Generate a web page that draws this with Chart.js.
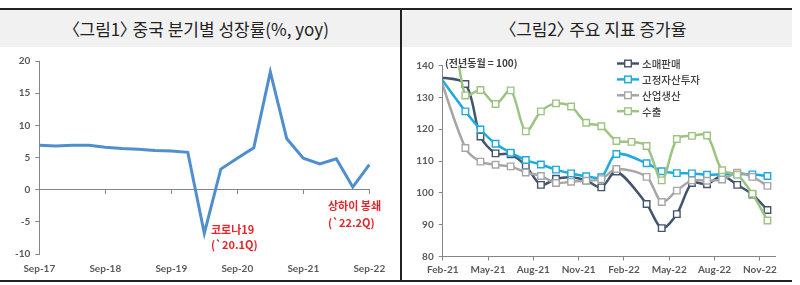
<!DOCTYPE html>
<html>
<head>
<meta charset="utf-8">
<script src="https://cdn.jsdelivr.net/npm/chart.js@4.4.1/dist/chart.umd.min.js"></script>
<style>
  body { margin: 0; width: 800px; height: 285px; background: #fff; position: relative; overflow: hidden;
         font-family: "Noto Sans CJK KR", sans-serif; }
  .abs { position: absolute; }
  .title { position: absolute; top: 10px; height: 37px; line-height: 37px; background: #f1f1f1;
           text-align: center; font-size: 17px; color: #222; font-feature-settings: "palt"; }
  .note { position: absolute; color: #e3262b; font-weight: bold; font-size: 11px; line-height: 14px; white-space: nowrap; }
  .unit { position: absolute; color: #404040; font-weight: bold; font-size: 10px; line-height: 12px; white-space: nowrap; }
</style>
</head>
<body>
<div class="title" style="left:0;width:400px">〈그림1〉 중국 분기별 성장률(%, yoy)</div>
<div class="title" style="left:402px;width:390px">〈그림2〉 주요 지표 증가율</div>
<div class="abs" style="left:0;top:8px;width:792px;height:2px;background:#222"></div>
<div class="abs" style="left:0;top:280px;width:792px;height:2px;background:#222"></div>
<div class="abs" style="left:400px;top:8px;width:2px;height:274px;background:#222"></div>

<div class="abs" style="left:0;top:48px;width:400px;height:232px"><canvas id="c1"></canvas></div>
<div class="abs" style="left:402px;top:48px;width:390px;height:232px"><canvas id="c2"></canvas></div>

<div class="note" style="left:211px;top:222px">코로나19</div>
<div class="note" style="left:211px;top:237px">(`20.1Q)</div>
<div class="note" style="left:328px;top:198px">상하이 봉쇄</div>
<div class="note" style="left:328px;top:215px">(`22.2Q)</div>
<div class="unit" style="left:445px;top:57px">(전년동월 = 100)</div>

<script>
// 그림1: 분기별 GDP 성장률
const quarters = ['Sep-17', 'Dec-17', 'Mar-18', 'Jun-18', 'Sep-18', 'Dec-18', 'Mar-19', 'Jun-19', 'Sep-19', 'Dec-19',
                  'Mar-20', 'Jun-20', 'Sep-20', 'Dec-20', 'Mar-21', 'Jun-21', 'Sep-21', 'Dec-21', 'Mar-22', 'Jun-22', 'Sep-22'];
const gdpGrowth = [6.9, 6.8, 6.9, 6.9, 6.6, 6.4, 6.3, 6.1, 6.0, 5.8,
                   -6.8, 3.2, 4.9, 6.5, 18.3, 7.9, 4.9, 4.0, 4.8, 0.4, 3.9];
const gdpTicks = [-10, -5, 0, 5, 10, 15, 20];

// 그림2: 주요 지표 (전년동월 = 100), 1·2월은 합산치라 2월은 비어 있음
const months = ['Jan-21', 'Feb-21', 'Mar-21', 'Apr-21', 'May-21', 'Jun-21', 'Jul-21', 'Aug-21', 'Sep-21', 'Oct-21', 'Nov-21', 'Dec-21',
                'Jan-22', 'Feb-22', 'Mar-22', 'Apr-22', 'May-22', 'Jun-22', 'Jul-22', 'Aug-22', 'Sep-22', 'Oct-22', 'Nov-22'];
const monthTicks = ['Feb-21', 'May-21', 'Aug-21', 'Nov-21', 'Feb-22', 'May-22', 'Aug-22', 'Nov-22'];
const seriesNames = ['소매판매', '고정자산투자', '산업생산', '수출'];
const retail  = [136.5, null, 134.2, 117.7, 112.4, 112.1, 108.5, 102.5, 104.4, 104.9, 103.9, 101.7,
                 106.7, null, 96.5, 88.9, 93.3, 103.1, 102.7, 105.4, 102.5, 99.5, 94.6];
const fixedInv = [138.5, null, 125.6, 119.9, 115.4, 112.6, 110.3, 108.9, 107.3, 106.1, 105.2, 104.9,
                 112.2, null, 109.3, 106.8, 106.2, 106.1, 105.7, 105.8, 105.9, 105.8, 105.3];
const industry = [141.0, null, 114.1, 109.8, 108.8, 108.3, 106.4, 105.3, 103.1, 103.5, 103.8, 104.3,
                 107.5, null, 105.0, 97.1, 100.7, 103.9, 103.8, 104.2, 106.3, 105.0, 102.2];
const exportsIdx = [154.9, 154.9, 130.6, 132.3, 127.9, 132.2, 119.3, 125.6, 128.1, 127.1, 122.0, 120.9,
                 116.3, 116.0, 114.7, 103.9, 116.9, 117.9, 118.0, 107.1, 105.7, 99.7, 91.3];
const idxTicks = [80, 90, 100, 110, 120, 130, 140];

const axisColor = '#868686';
const tickFont = { family: 'Lato', size: 10, weight: 'bold' };
const tickColor = '#595959';

// chart 1
new Chart(document.getElementById('c1'), {
    type: 'line',
    data: {
        labels: quarters,
        datasets: [{
            data: gdpGrowth,
            borderColor: '#4f8fcd',
            borderWidth: 3,
            pointRadius: 0,
            tension: 0
        }]
    },
    options: {
        responsive: true,
        maintainAspectRatio: false,
        animation: false,
        layout: { padding: { top: 13, right: 30.7, left: 0, bottom: 0 } },
        plugins: { legend: { display: false }, tooltip: { enabled: false } },
        scales: {
            x: {
                offset: false,
                grid: { display: false, drawTicks: false },
                border: { display: false },
                ticks: {
                    autoSkip: false, maxRotation: 0, padding: 9, color: tickColor, font: tickFont,
                    callback: (v, i) => (i % 4 === 0 ? quarters[i] : '')
                },
                afterFit: s => { s.height = 26; }
            },
            xZero: {
                type: 'category',
                position: { y: 0 },
                offset: false,
                ticks: { display: false },
                grid: {
                    drawOnChartArea: false, tickLength: 4,
                    tickColor: c => (c.index % 4 === 0 ? axisColor : 'transparent')
                },
                border: { color: axisColor }
            },
            y: {
                min: gdpTicks[0],
                max: gdpTicks[gdpTicks.length - 1],
                afterBuildTicks: s => { s.ticks = gdpTicks.map(v => ({ value: v })); },
                ticks: { padding: 5, color: tickColor, font: tickFont },
                grid: { drawOnChartArea: false, tickLength: 4, color: axisColor },
                border: { color: axisColor },
                afterFit: s => { s.width = 39.3; }
            }
        }
    }
});

// chart 2 legend drawn inside the plot
const insideLegend = {
    id: 'insideLegend',
    afterDraw(chart) {
        const ctx = chart.ctx;
        ctx.save();
        chart.data.datasets.forEach((ds, i) => {
            const y = 15.5 + i * 15.9;
            ctx.strokeStyle = ds.borderColor;
            ctx.lineWidth = ds.borderWidth;
            ctx.beginPath();
            ctx.moveTo(215, y);
            ctx.lineTo(237, y);
            ctx.stroke();
            ctx.lineWidth = 1.4;
            ctx.fillStyle = '#fff';
            ctx.fillRect(222.7, y - 3.3, 6.6, 6.6);
            ctx.strokeRect(222.7, y - 3.3, 6.6, 6.6);
            ctx.fillStyle = '#404040';
            ctx.font = '500 10.5px "Noto Sans CJK KR"';
            ctx.textBaseline = 'middle';
            ctx.fillText(ds.label, 240, y + 0.5);
        });
        ctx.restore();
    }
};

function asPoints(values) {
    return values.map((v, i) => ({ x: i + 0.5, y: v }));
}

const lineStyle = (color, order) => ({
    borderColor: color,
    borderWidth: 2.5,
    pointStyle: 'rect',
    pointRadius: 4.6,
    pointBorderWidth: 1.4,
    pointBorderColor: color,
    pointBackgroundColor: '#fff',
    tension: 0.3,
    spanGaps: true,
    order: order
});

new Chart(document.getElementById('c2'), {
    type: 'line',
    data: {
        datasets: [
            { label: seriesNames[0], data: asPoints(retail), ...lineStyle('#44546a', 3) },
            { label: seriesNames[1], data: asPoints(fixedInv), ...lineStyle('#1eaadf', 2) },
            { label: seriesNames[2], data: asPoints(industry), ...lineStyle('#a6a6a6', 1) },
            { label: seriesNames[3], data: asPoints(exportsIdx), ...lineStyle('#9dc383', 0) }
        ]
    },
    options: {
        responsive: true,
        maintainAspectRatio: false,
        animation: false,
        layout: { padding: { top: 17.5, right: 17, left: 0, bottom: 0 } },
        plugins: { legend: { display: false }, tooltip: { enabled: false } },
        scales: {
            x: {
                type: 'linear',
                min: months.indexOf('Feb-21'),
                max: months.length,
                afterBuildTicks: s => { s.ticks = monthTicks.map(m => ({ value: months.indexOf(m) })); },
                ticks: { autoSkip: false, maxRotation: 0, padding: 3, color: tickColor, font: tickFont,
                         callback: v => months[v] },
                grid: { drawOnChartArea: false, tickLength: 4, color: axisColor },
                border: { color: axisColor },
                afterFit: s => { s.height = 23.5; }
            },
            y: {
                min: idxTicks[0],
                max: idxTicks[idxTicks.length - 1],
                afterBuildTicks: s => { s.ticks = idxTicks.map(v => ({ value: v })); },
                ticks: { padding: 5, color: tickColor, font: tickFont },
                grid: { drawOnChartArea: false, tickLength: 4, color: axisColor },
                border: { color: axisColor },
                afterFit: s => { s.width = 40.7; }
            }
        }
    },
    plugins: [insideLegend]
});
</script>
</body>
</html>
